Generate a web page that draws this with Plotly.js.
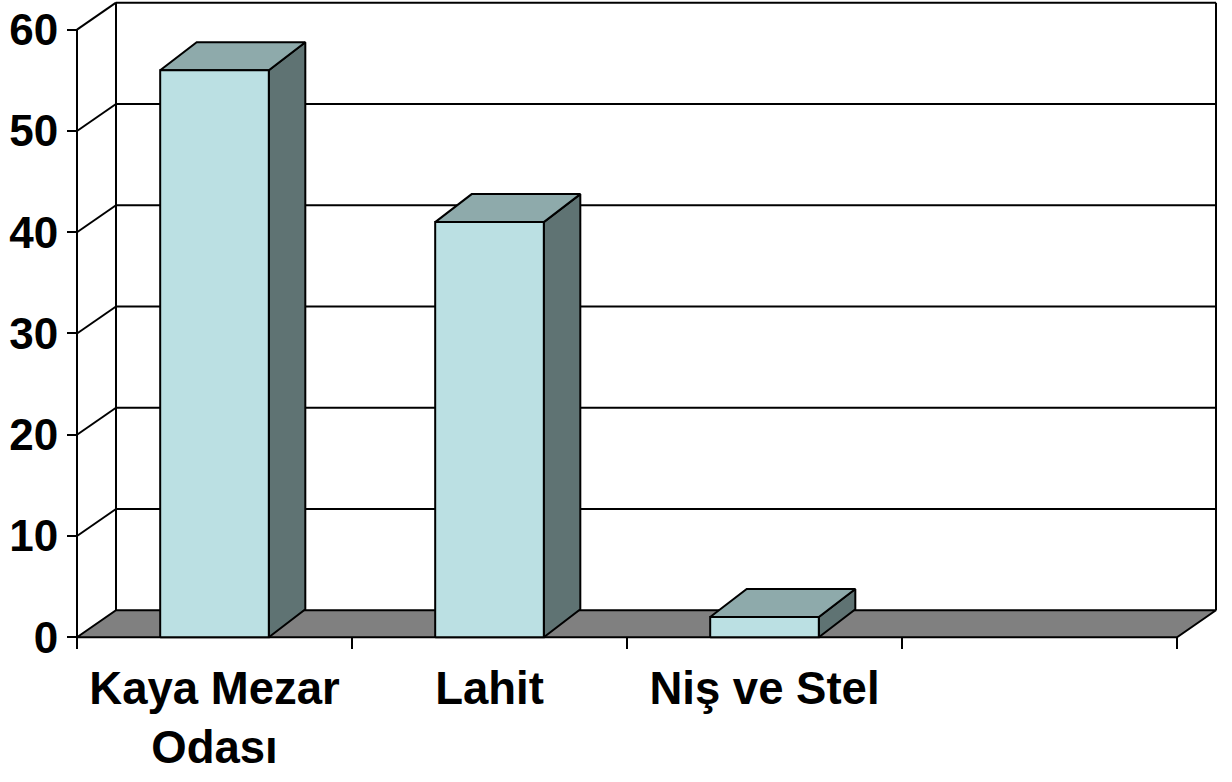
<!DOCTYPE html>
<html><head><meta charset="utf-8">
<script src="https://cdn.plot.ly/plotly-3.0.1.min.js"></script>
<style>html,body{margin:0;padding:0;background:#fff;} #chart{width:1232px;height:782px;}</style>
</head><body><div id="chart"></div>
<script>
// ---- data ----
const categories = ["Kaya Mezar<br>Odası", "Lahit", "Niş ve Stel"];
const values = [56, 41, 2];
const yTickVals = [0, 10, 20, 30, 40, 50, 60];
const slotBounds = [0, 1, 2, 3, 4];

// ---- geometry / style ----
const nSlots = slotBounds.length - 1;
const yMax = yTickVals[yTickVals.length - 1];
const PX_X = 275, PX_Y = 10.127;
const wallDX = 39 / PX_X, wallDY = 27 / PX_Y;
const barDX = 36.5 / PX_X, barDY = 28 / PX_Y;
const barW = 0.395;
const FONT = "'Liberation Sans', Arial, sans-serif";
const LINE = {color: '#000', width: 2};

function poly(xs, ys, X, Y) { xs.forEach(v => X.push(v)); ys.forEach(v => Y.push(v)); X.push(null); Y.push(null); }

// back wall + side wall lines
const wx = [], wy = [];
yTickVals.filter(v => v > 0).forEach(v => poly([wallDX, nSlots + wallDX], [v + wallDY, v + wallDY], wx, wy));
poly([wallDX, wallDX], [wallDY, yMax + wallDY], wx, wy);
poly([nSlots + wallDX, nSlots + wallDX], [wallDY, yMax + wallDY], wx, wy);
yTickVals.filter(v => v > 0).forEach(v => poly([0, wallDX], [v, v + wallDY], wx, wy));

// floor
const fx = [0, nSlots, nSlots + wallDX, wallDX, 0];
const fy = [0, 0, wallDY, wallDY, 0];

// bars
const sx = [], sy = [], tx = [], ty = [], frx = [], fry = [];
values.forEach((v, i) => {
  const x0 = i + 0.5 - barW / 2, x1 = x0 + barW;
  poly([x1, x1 + barDX, x1 + barDX, x1, x1], [0, barDY, v + barDY, v, 0], sx, sy);
  poly([x0, x1, x1 + barDX, x0 + barDX, x0], [v, v, v + barDY, v + barDY, v], tx, ty);
  poly([x0, x1, x1, x0, x0], [0, 0, v, v, 0], frx, fry);
});

const base = {type: 'scatter', mode: 'lines', hoverinfo: 'skip', showlegend: false};
const traces = [
  Object.assign({}, base, {x: wx, y: wy, line: LINE}),
  Object.assign({}, base, {x: fx, y: fy, fill: 'toself', fillcolor: '#808080', line: LINE}),
  Object.assign({}, base, {x: [0, 0], y: [0, yMax], line: LINE}),
  Object.assign({}, base, {x: sx, y: sy, fill: 'toself', fillcolor: '#5F7373', line: LINE}),
  Object.assign({}, base, {x: tx, y: ty, fill: 'toself', fillcolor: '#8EAAAB', line: LINE}),
  Object.assign({}, base, {x: frx, y: fry, fill: 'toself', fillcolor: '#BBE0E3', line: LINE})
];

const L = 72, R = 11, T = 0, B = 142;
const W = 1232 - L - R, H = 782 - T - B;
const xLeft = -(77 - L) / PX_X;
const yBottom = -(H - 637.3) / PX_Y;

const layout = {
  width: 1232, height: 782,
  margin: {l: L, r: R, t: T, b: B, pad: 0},
  paper_bgcolor: '#fff', plot_bgcolor: '#fff',
  showlegend: false,
  xaxis: {
    range: [xLeft, xLeft + W / PX_X], fixedrange: true,
    showgrid: false, zeroline: false, showline: false,
    anchor: 'free', position: (H - 637.3) / H,
    tickmode: 'array', tickvals: categories.map((c, i) => i + 0.5), ticktext: categories,
    ticks: 'outside', ticklen: 11, tickcolor: 'rgba(0,0,0,0)',
    tickfont: {family: FONT, size: 45.5, color: '#000', weight: 700},
    minor: {tickmode: 'array', tickvals: slotBounds, ticks: 'outside', ticklen: 11, tickwidth: 2, tickcolor: '#000', showgrid: false}
  },
  yaxis: {
    range: [yBottom, yBottom + H / PX_Y], fixedrange: true,
    showgrid: false, zeroline: false, showline: false,
    anchor: 'free', position: (77 - L) / W,
    tickmode: 'array', tickvals: yTickVals,
    ticks: 'outside', ticklen: 10, tickwidth: 2, tickcolor: '#000',
    tickfont: {family: FONT, size: 44, color: '#000', weight: 700}
  }
};

Plotly.newPlot('chart', traces, layout, {displayModeBar: false, staticPlot: true});
</script>
</body></html>
